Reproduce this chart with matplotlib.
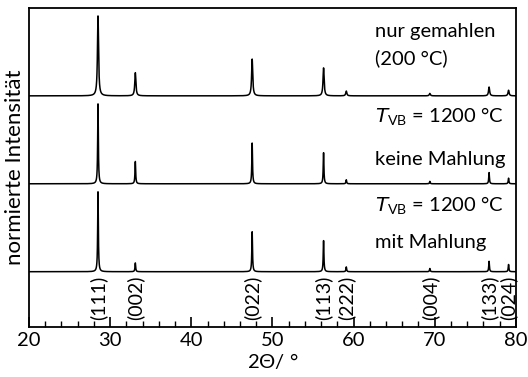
import matplotlib
matplotlib.use('Agg')
import matplotlib.pyplot as plt
import numpy as np

plt.rcParams['font.family'] = ['Lato', 'DejaVu Sans']
plt.rcParams['mathtext.fontset'] = 'custom'
plt.rcParams['mathtext.rm'] = 'Lato'
plt.rcParams['mathtext.it'] = 'DejaVu Sans:italic'
plt.rcParams['mathtext.fallback'] = 'stixsans'

# reflection positions (2 theta, deg) and Miller labels
peak_pos = [28.5, 33.1, 47.5, 56.3, 59.1, 69.4, 76.7, 79.1]
hkl = ['(111)', '(002)', '(022)', '(113)', '(222)', '(004)', '(133)', '(024)']

# normalized peak heights
int_milled = [1.0, 0.29, 0.46, 0.35, 0.06, 0.03, 0.11, 0.07]
int_no_mill = [1.0, 0.28, 0.51, 0.39, 0.05, 0.03, 0.14, 0.07]
int_mill = [1.0, 0.11, 0.50, 0.39, 0.06, 0.04, 0.13, 0.09]

labels = [['nur gemahlen', '(200 °C)'],
          [r'$T_{\rm VB}$ = 1200 °C', 'keine Mahlung'],
          [r'$T_{\rm VB}$ = 1200 °C', 'mit Mahlung']]

# layout
offsets = [2.2, 1.1, 0.0]
widths = [0.08, 0.05, 0.05]
lab_dy = [[0.81, 0.47], [0.84, 0.30], [0.82, 0.37]]

tt = np.linspace(20, 80, 8000)


def pattern(heights, w):
    y = np.zeros_like(tt)
    for p, h in zip(peak_pos, heights):
        y += h * w**2 / ((tt - p)**2 + w**2)
    return y


fig = plt.figure(figsize=(5.28, 3.77), dpi=100)
ax = fig.add_axes([0.055, 0.133, 0.922, 0.846])

for ints, off, w, lab, dy in zip([int_milled, int_no_mill, int_mill], offsets, widths, labels, lab_dy):
    ax.plot(tt, pattern(ints, w) + off, color='black', lw=1.1)
    ax.text(62.6, off + dy[0], lab[0], fontsize=14.5, va='center', ha='left')
    ax.text(62.6, off + dy[1], lab[1], fontsize=14.5, va='center', ha='left')

for p, h in zip(peak_pos, hkl):
    ax.text(p, -0.05, h, rotation=90, fontsize=14, ha='center', va='top')

ax.set_xlim(20, 80)
ax.set_ylim(-0.69, 3.3)
ax.set_yticks([])
ax.set_xticks(np.arange(20, 81, 10))
ax.set_xticks(np.arange(20, 81, 2), minor=True)
ax.tick_params(axis='x', which='major', direction='in', length=7, width=1.2, labelsize=14.5, pad=4)
ax.tick_params(axis='x', which='minor', direction='in', length=4, width=1.0)
for s in ax.spines.values():
    s.set_linewidth(1.3)

ax.set_xlabel(r'2$\mathit{\Theta}$/ °', fontsize=14.5, labelpad=1)
ax.set_ylabel('normierte Intensität', fontsize=16, labelpad=3)

fig.savefig('out.png', dpi=100)
